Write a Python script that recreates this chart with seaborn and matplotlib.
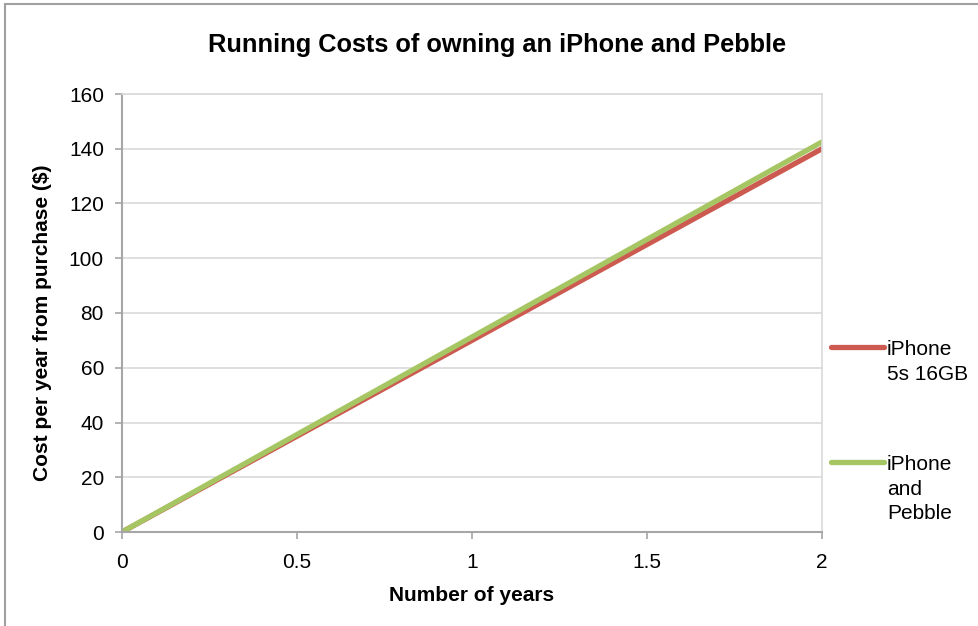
import numpy as np
import pandas as pd
import matplotlib
matplotlib.use("Agg")
import matplotlib.pyplot as plt
from matplotlib.lines import Line2D
import seaborn as sns

years = [0, 1, 2]
iphone_cost = [0, 70, 140]
iphone_pebble_cost = [0, 71.25, 142.5]
series_names = ["iPhone 5s 16GB", "iPhone and Pebble"]
legend_labels = ["iPhone\n5s 16GB", "iPhone\nand\nPebble"]
colors = ["#CD5A50", "#A5C663"]

df = pd.DataFrame({
    "years": years * 2,
    "cost": iphone_cost + iphone_pebble_cost,
    "series": [series_names[0]] * len(years) + [series_names[1]] * len(years),
})

sns.set_style("white")
plt.rcParams["font.family"] = ["Liberation Sans", "DejaVu Sans"]
plt.rcParams["text.color"] = "black"
plt.rcParams["axes.labelcolor"] = "black"
plt.rcParams["xtick.labelcolor"] = "black"
plt.rcParams["ytick.labelcolor"] = "black"

fig = plt.figure(figsize=(9.79, 6.26), dpi=100)
ax = fig.add_axes([122 / 979, 1 - 532 / 626, 700 / 979, 438 / 626])

sns.lineplot(data=df, x="years", y="cost", hue="series", palette=colors,
             linewidth=3.8, legend=False, ax=ax)
for ln in ax.lines:
    ln.set_solid_capstyle("round")

ax.set_xlim(0, 2)
ax.set_ylim(0, 160)
ax.set_xticks([0, 0.5, 1, 1.5, 2])
ax.set_xticklabels(["0", "0.5", "1", "1.5", "2"])
ax.set_yticks(range(0, 161, 20))
ax.yaxis.grid(True, color="#D9D9D9", linewidth=1.2)
ax.xaxis.grid(False)
ax.set_axisbelow(True)

for side in ["left", "bottom"]:
    ax.spines[side].set_color("#A6A6A6")
    ax.spines[side].set_linewidth(1.5)
for side in ["top", "right"]:
    ax.spines[side].set_color("#D9D9D9")
    ax.spines[side].set_linewidth(1.2)

ax.tick_params(axis="both", which="major", labelsize=15, length=5, width=1.2,
               color="#A6A6A6", pad=8, direction="out")
ax.tick_params(axis="x", top=False, bottom=True, pad=10)
ax.tick_params(axis="y", left=True, right=False)

ax.set_xlabel("Number of years", fontsize=15, fontweight="bold", labelpad=10)
ax.set_ylabel("Cost per year from purchase ($)", fontsize=15, fontweight="bold")
ax.yaxis.set_label_coords(-0.1, (532 - 323) / 438)
fig.text(497 / 979, 1 - 45 / 626, "Running Costs of owning an iPhone and Pebble",
         ha="center", va="center", fontsize=18.3, fontweight="bold")

# legend on the right, Excel style (handle aligned with first line)
leg_y = [347, 462]
for lab, col, y in zip(legend_labels, colors, leg_y):
    fig.add_artist(Line2D([831 / 979, 884 / 979], [1 - y / 626] * 2, color=col,
                          linewidth=3.8, solid_capstyle="round"))
    fig.text(887 / 979, 1 - (y - 7) / 626, lab, ha="left", va="top",
             fontsize=15, linespacing=1.38)

# chart area border (left and top visible)
fig.add_artist(Line2D([5.5 / 979, 5.5 / 979], [0, 1 - 3.5 / 626], color="#A0A0A0", linewidth=1.5))
fig.add_artist(Line2D([5.5 / 979, 1], [1 - 3.5 / 626] * 2, color="#A0A0A0", linewidth=1.5))

fig.savefig("out.png", dpi=100)
